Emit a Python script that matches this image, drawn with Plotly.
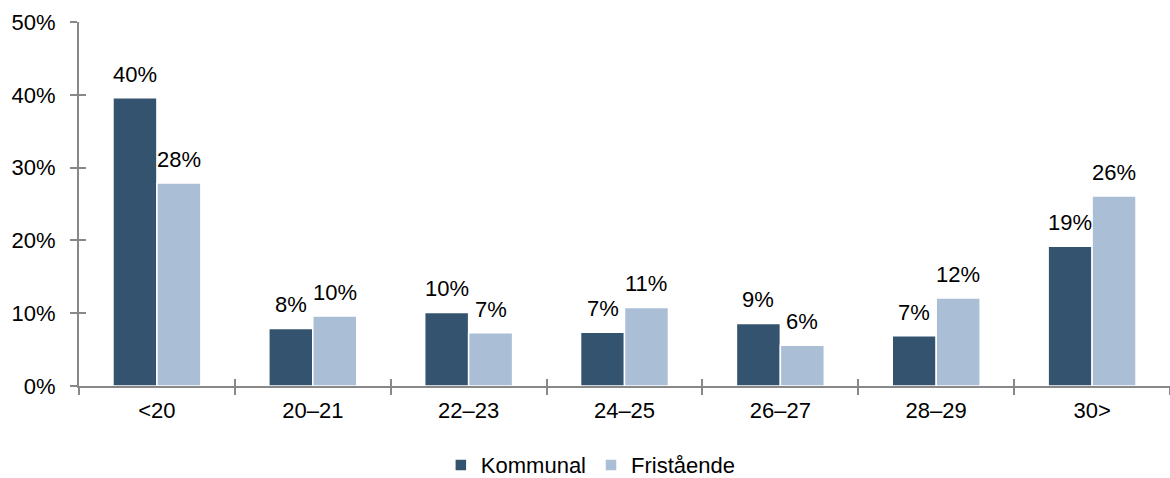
import plotly.graph_objects as go

categories = ["<20", "20–21", "22–23", "24–25", "26–27", "28–29", "30>"]
kommunal = [39.6, 7.9, 10.1, 7.4, 8.6, 6.9, 19.2]
fristaende = [27.9, 9.6, 7.3, 10.8, 5.6, 12.1, 26.1]
y_ticks = [0, 10, 20, 30, 40, 50]

FONT = "Liberation Sans, Arial, sans-serif"
FS = 22
C_K = "#34536F"
C_F = "#AABED6"
AX = "#888888"

fig = go.Figure()
fig.add_trace(go.Bar(name="Kommunal", x=categories, y=kommunal,
                     marker=dict(color=C_K, line=dict(color="white", width=1.5))))
fig.add_trace(go.Bar(name="Fristående", x=categories, y=fristaende,
                     marker=dict(color=C_F, line=dict(color="white", width=1.5))))
# invisible helper trace so the overlay axes (inner tick halves) are drawn
fig.add_trace(go.Scatter(x=categories, y=[None] * len(categories), xaxis="x2", yaxis="y2",
                         mode="markers", showlegend=False, hoverinfo="skip"))

annotations = []
for i, (k, f) in enumerate(zip(kommunal, fristaende)):
    for off, v in ((-0.141, k), (0.141, f)):
        annotations.append(dict(x=i + off, y=v, xref="x", yref="y",
                                text=f"{v:.0f}%", showarrow=False,
                                yanchor="bottom", yshift=9,
                                font=dict(family=FONT, size=FS, color="black")))

fig.update_layout(
    width=1170, height=478,
    margin=dict(l=79, r=0, t=22, b=92),
    paper_bgcolor="white", plot_bgcolor="white",
    barmode="group", bargap=0.436, bargroupgap=0.0,
    font=dict(family=FONT, size=FS, color="black"),
    showlegend=True,
    legend=dict(orientation="h", xref="container", yref="container",
                x=0.505, xanchor="center", y=0.027, yanchor="middle",
                font=dict(family=FONT, size=FS, color="black"),
                itemwidth=30, tracegroupgap=0),
    annotations=annotations,
    xaxis=dict(
        type="category", range=[-0.5, 6.5],
        showline=True, linecolor=AX, linewidth=2,
        ticks="outside", tickson="boundaries", ticklen=7, tickwidth=1.5, tickcolor=AX,
        showgrid=False, tickfont=dict(family=FONT, size=FS, color="black"),
        ticklabelstandoff=4,
    ),
    yaxis=dict(
        range=[0, 50], tickvals=y_ticks, ticktext=[f"{t}%" for t in y_ticks],
        showline=True, linecolor=AX, linewidth=2,
        ticks="outside", ticklen=7, tickwidth=1.5, tickcolor=AX,
        showgrid=False, zeroline=False,
        tickfont=dict(family=FONT, size=FS, color="black"),
        ticklabelstandoff=10,
    ),
    xaxis2=dict(
        type="category", range=[-0.5, 6.5], overlaying="x", side="bottom",
        categoryarray=categories, categoryorder="array",
        showline=False, ticks="inside", tickson="boundaries", ticklen=7, tickwidth=1.5,
        tickcolor=AX, showticklabels=False, showgrid=False, zeroline=False,
    ),
    yaxis2=dict(
        range=[0, 50], tickvals=y_ticks, overlaying="y", side="left",
        showline=False, ticks="inside", ticklen=7, tickwidth=1.5, tickcolor=AX,
        showticklabels=False, showgrid=False, zeroline=False,
    ),
)

fig.write_html("out.html", config={"displayModeBar": False},
               post_script="document.body.style.margin='0';document.body.style.padding='0';")
